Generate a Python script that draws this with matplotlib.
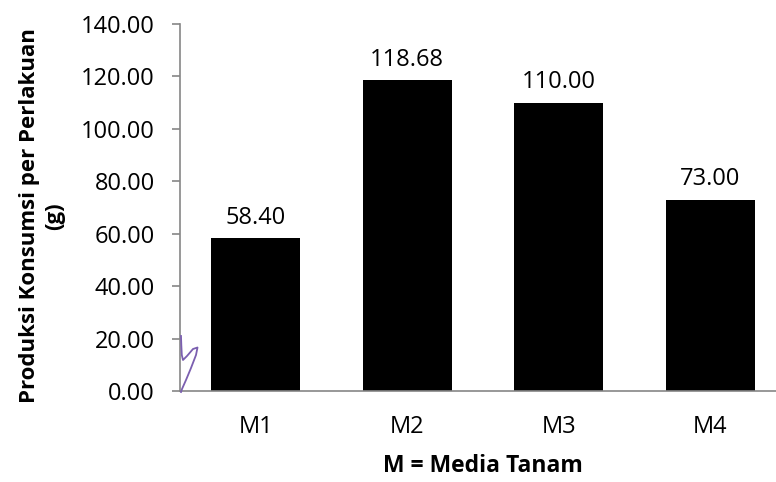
import matplotlib
matplotlib.use("Agg")
import matplotlib.pyplot as plt
from matplotlib.lines import Line2D
import numpy as np

categories = ["M1", "M2", "M3", "M4"]
values = [58.40, 118.68, 110.00, 73.00]
value_labels = ["58.40", "118.68", "110.00", "73.00"]
yticks = [0, 20, 40, 60, 80, 100, 120, 140]

plt.rcParams['font.family'] = ['Open Sans', 'DejaVu Sans']

W, H = 776, 482
fig = plt.figure(figsize=(W/100, H/100), dpi=100)
ax = fig.add_axes([180/W, (H-391)/H, (786-180)/W, (391-24)/H])

x = np.arange(len(categories))
ax.bar(x, values, width=0.585, color='black', zorder=2)
for xi, v, lab in zip(x, values, value_labels):
    ax.annotate(lab, (xi, v), xytext=(0, 6), textcoords='offset points',
                ha='center', va='bottom', fontsize=17)

ax.set_xlim(-0.5, 3.5)
ax.set_ylim(0, 140)
ax.set_yticks(yticks)
ax.set_yticklabels([f"{t:.2f}" for t in yticks], fontsize=17)
ax.set_xticks(x)
ax.set_xticklabels(categories, fontsize=17)
ax.tick_params(axis='x', length=0, pad=17)
ax.tick_params(axis='y', length=6, width=1.2, color='#868686', pad=12)
for s in ['top', 'right']:
    ax.spines[s].set_visible(False)
for s in ['left', 'bottom']:
    ax.spines[s].set_color('#868686')
    ax.spines[s].set_linewidth(1.2)

fig.text(482.5/W, 1-466.5/H, "M = Media Tanam", ha='center', va='center',
         fontsize=16.5, fontweight='bold')
fig.text(42/W, 1-216/H, "Produksi Konsumsi per Perlakuan\n(g)", ha='center',
         va='center', rotation=90, fontsize=16, fontweight='bold',
         multialignment='center', linespacing=1.3)

# hand-drawn purple squiggle near origin
sx = [181, 181.3, 181.8, 183, 187, 193, 197.5, 196, 191, 186, 182, 181]
sy = [336, 345, 355, 360, 356, 349, 347.5, 355, 368, 380, 389, 392]
fig.add_artist(Line2D([a/W for a in sx], [1-b/H for b in sy],
                      transform=fig.transFigure, color='#7b5fb0', lw=1.3))

fig.savefig("out.png", dpi=100)
